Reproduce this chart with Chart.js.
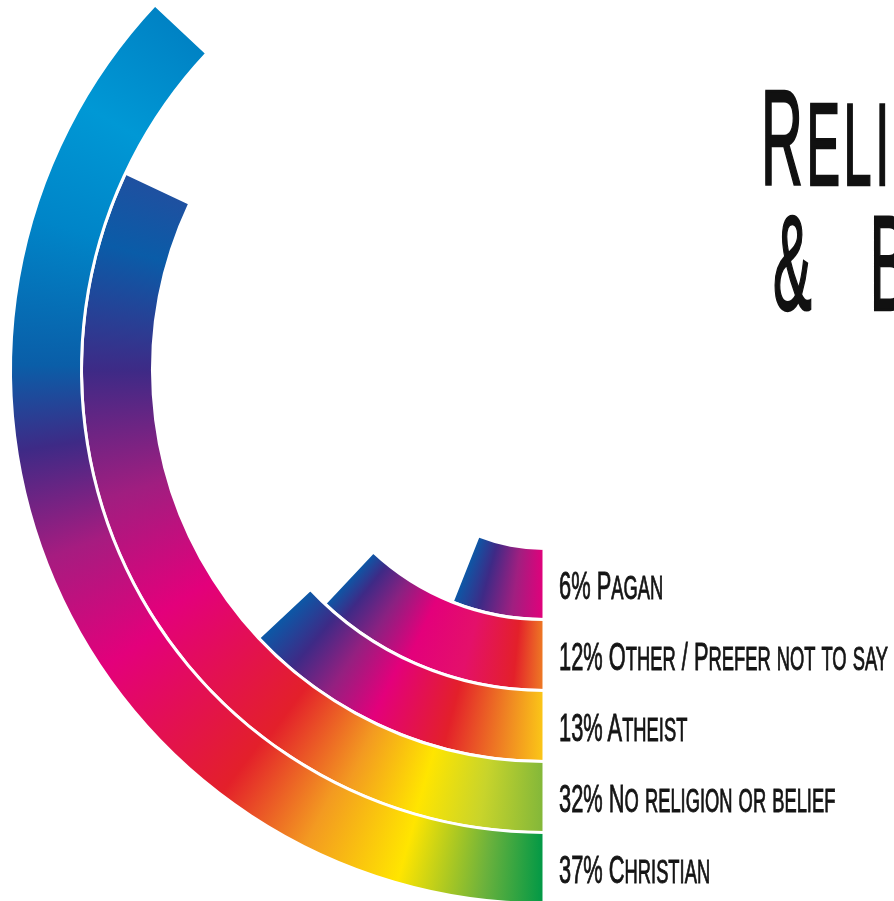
<!DOCTYPE html>
<html>
<head>
<meta charset="utf-8">
<script src="https://cdn.jsdelivr.net/npm/chart.js@4.4.1/dist/chart.umd.min.js"></script>
<style>
html,body{margin:0;padding:0;width:894px;height:901px;overflow:hidden;background:#fff;}
#wrap{position:absolute;left:-6px;top:-180px;width:1100px;height:1100px;}
#c{position:absolute;left:0;top:0;}
.lbl{position:absolute;white-space:nowrap;font-family:"Liberation Sans",Arial,sans-serif;font-size:39px;line-height:39px;color:#151515;-webkit-text-stroke:0.9px #151515;transform-origin:0 50%;transform:scaleX(0.56);}
.lbl .sc{font-size:0.84em;text-transform:uppercase;}
.title{position:absolute;white-space:nowrap;font-family:"Liberation Sans",Arial,sans-serif;font-size:135px;line-height:135px;color:#111;-webkit-text-stroke:2.5px #111;letter-spacing:0.06em;transform-origin:0 0;transform:scaleX(0.43);}
.title .sc{font-size:0.87em;text-transform:uppercase;}
</style>
</head>
<body>
<div class="title" id="t1" style="left:761px;top:71px;">R<span class="sc">eligion</span></div>
<div class="title" id="t2" style="left:773px;top:196px;word-spacing:0.6em;">&amp; B<span class="sc">elief</span></div>
<div id="wrap"><canvas id="c" width="1100" height="1100"></canvas></div>
<script>
// ---- data ----
const categories = ['Christian', 'No religion or belief', 'Atheist', 'Other / Prefer not to say', 'Pagan'];
const percentages = [37, 32, 13, 12, 6];
const remainders = percentages.map(p => 100 - p);

// ---- gradient colour stops (fraction along each arc) ----
const gradientStops = [
  [[0,'#009846'],[0.05,'#6cb23c'],[0.12,'#ffe500'],[0.2,'#f39a21'],[0.28,'#e3202a'],[0.42,'#e3007b'],[0.52,'#a61c80'],[0.61,'#3e2a86'],[0.68,'#0a5ea8'],[0.8,'#0085c8'],[0.9,'#0098d5'],[1,'#0082c4']],
  [[0,'#82b73a'],[0.07,'#c8d42b'],[0.14,'#ffe500'],[0.22,'#f39a21'],[0.32,'#e3202a'],[0.5,'#e3007b'],[0.64,'#a01e80'],[0.78,'#3e2a86'],[0.92,'#0a5ca8'],[1,'#1f50a0']],
  [[0,'#fbc817'],[0.12,'#f08a22'],[0.32,'#e3202a'],[0.56,'#e3007b'],[0.72,'#942080'],[0.86,'#3e2a86'],[1,'#0a5aa8']],
  [[0,'#ee7d24'],[0.13,'#e3202a'],[0.35,'#e4106a'],[0.58,'#e3007b'],[0.76,'#8a2181'],[0.9,'#3e2a86'],[1,'#0a5aa8']],
  [[0,'#e3007b'],[0.35,'#a01f80'],[0.7,'#3e2a86'],[1,'#0a5aa8']]
];

function arcGradient(ctx) {
  if (ctx.dataIndex !== 0) return 'rgba(0,0,0,0)';
  const chart = ctx.chart;
  const a = chart.chartArea;
  const stops = gradientStops[ctx.datasetIndex];
  if (!a) return stops[0][1];
  const cx = (a.left + a.right) / 2, cy = (a.top + a.bottom) / 2;
  const g = chart.ctx.createConicGradient(Math.PI / 2, cx, cy);
  const share = percentages[ctx.datasetIndex] / 100;
  stops.forEach(([f, c]) => g.addColorStop(f * share, c));
  g.addColorStop(Math.min(1, share + 0.002), stops[stops.length - 1][1]);
  return g;
}

// ---- HTML labels with small caps ----
const wrap = document.getElementById('wrap');
const labelEls = categories.map((cat, i) => {
  const text = percentages[i] + '% ' + cat;
  const el = document.createElement('div');
  el.className = 'lbl';
  const runs = text.match(/[a-z]+|[^a-z]+/g);
  runs.forEach(r => {
    if (/^[a-z]/.test(r)) {
      const s = document.createElement('span');
      s.className = 'sc';
      s.textContent = r;
      el.appendChild(s);
    } else {
      el.appendChild(document.createTextNode(r));
    }
  });
  wrap.appendChild(el);
  return el;
});

const labelGap = 15;
const labelPlugin = {
  id: 'ringLabels',
  afterDraw(chart) {
    chart.data.datasets.forEach((ds, i) => {
      const arc = chart.getDatasetMeta(i).data[0];
      const mid = (arc.innerRadius + arc.outerRadius) / 2;
      const el = labelEls[i];
      el.style.left = (arc.x + labelGap) + 'px';
      el.style.top = (arc.y + mid - 19.5 + 1) + 'px';
    });
  }
};

new Chart(document.getElementById('c'), {
  type: 'doughnut',
  data: {
    labels: ['value', 'rest'],
    datasets: categories.map((cat, i) => ({
      label: cat,
      data: [percentages[i], remainders[i]],
      backgroundColor: arcGradient,
      borderColor: '#ffffff',
      borderWidth: [3, 0]
    }))
  },
  options: {
    responsive: false,
    animation: false,
    events: [],
    rotation: 180,
    circumference: 360,
    radius: 533.5,
    cutout: '33.46%',
    layout: { padding: 0 },
    plugins: { legend: { display: false }, tooltip: { enabled: false }, title: { display: false } }
  },
  plugins: [labelPlugin]
});
</script>
</body>
</html>
